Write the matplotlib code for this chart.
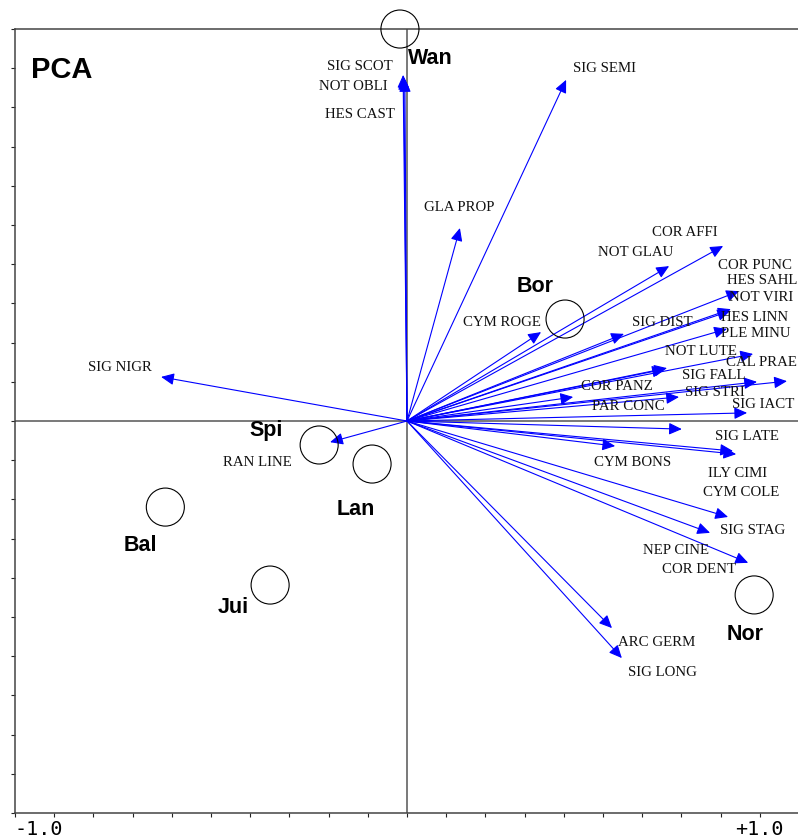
import matplotlib
matplotlib.use('Agg')
import matplotlib.pyplot as plt
import numpy as np

# site scores (circles)
sites = ['Wan', 'Bor', 'Spi', 'Lan', 'Bal', 'Jui', 'Nor']
site_x = [-0.020, 0.448, -0.249, -0.099, -0.685, -0.388, 0.984]
site_y = [1.111, 0.289, -0.068, -0.122, -0.244, -0.465, -0.493]

# species loadings (arrow tips)
species = ['SIG SCOT', 'NOT OBLI', 'HES CAST', 'GLA PROP', 'SIG SEMI', 'COR AFFI',
           'NOT GLAU', 'COR PUNC', 'HES SAHL', 'NOT VIRI', 'HES LINN', 'PLE MINU',
           'CYM ROGE', 'SIG DIST', 'NOT LUTE', 'CAL PRAE', 'SIG FALL', 'COR PANZ',
           'SIG STRI', 'PAR CONC', 'SIG IACT', 'SIG LATE', 'CYM BONS', 'ILY CIMI',
           'CYM COLE', 'SIG STAG', 'NEP CINE', 'COR DENT', 'ARC GERM', 'SIG LONG',
           'SIG NIGR', 'RAN LINE']
sp_x = [-0.011, -0.009, -0.006, 0.150, 0.451, 0.896,
        0.743, 0.941, 0.918, 0.916, 0.907, 0.981,
        0.380, 0.615, 0.737, 1.077, 0.992, 0.471,
        0.771, 0.731, 0.964, 0.924, 0.590, 0.779,
        0.933, 0.910, 0.859, 0.967, 0.581, 0.609,
        -0.697, -0.218]
sp_y = [0.981, 0.975, 0.969, 0.547, 0.967, 0.496,
        0.439, 0.368, 0.317, 0.312, 0.261, 0.190,
        0.252, 0.247, 0.150, 0.113, 0.111, 0.068,
        0.068, 0.147, 0.023, -0.085, -0.071, -0.023,
        -0.094, -0.272, -0.317, -0.402, -0.587, -0.672,
        0.125, -0.060]

# where the species names sit (left edge, middle)
sp_lab_x = [-0.227, -0.249, -0.232, 0.048, 0.471, 0.694,
            0.541, 0.882, 0.907, 0.913, 0.890, 0.890,
            0.159, 0.638, 0.731, 0.904, 0.779, 0.493,
            0.788, 0.524, 0.921, 0.873, 0.530, 0.853,
            0.839, 0.887, 0.669, 0.723, 0.598, 0.626,
            -0.904, -0.522]
sp_lab_y = [1.006, 0.947, 0.870, 0.604, 0.998, 0.533,
            0.479, 0.442, 0.397, 0.351, 0.292, 0.247,
            0.278, 0.278, 0.198, 0.167, 0.128, 0.099,
            0.082, 0.040, 0.048, -0.043, -0.119, -0.150,
            -0.204, -0.309, -0.366, -0.422, -0.629, -0.714,
            0.153, -0.119]

# where the site names sit (centre)
site_lab_x = [0.003, 0.363, -0.400, -0.145, -0.757, -0.493, 0.958]
site_lab_y = [1.028, 0.380, -0.026, -0.252, -0.354, -0.530, -0.604]

fig = plt.figure(figsize=(7.98, 8.39), dpi=100)
ax = fig.add_axes([15/798, 26/839, 783/798, 784/839])
ax.set_xlim(-10/9, 391/352.8)
ax.set_ylim(-10/9, 10/9)

ax.axhline(0, color='#555555', lw=1.1, zorder=1)
ax.axvline(0, color='#555555', lw=1.1, zorder=1)

for i in range(len(species)):
    ax.annotate('', xy=(sp_x[i], sp_y[i]), xytext=(0, 0),
                arrowprops=dict(arrowstyle='-|>,head_length=0.65,head_width=0.3',
                                color='#0000ff', lw=0.8, mutation_scale=12,
                                shrinkA=0, shrinkB=0), zorder=3)
    ax.text(sp_lab_x[i], sp_lab_y[i], species[i], ha='left', va='center',
            fontsize=10.7, family='Liberation Serif', color='#111111', zorder=4)

ax.scatter(site_x, site_y, s=750, facecolors='none', edgecolors='black',
           linewidths=0.8, zorder=5, clip_on=False)
for i in range(len(sites)):
    ha = 'left' if sites[i] == 'Wan' else 'center'
    ax.text(site_lab_x[i], site_lab_y[i], sites[i], ha=ha, va='center',
            fontsize=15.5, fontweight='bold', family='Liberation Sans', zorder=6)

ax.text(31/798, 1 - 70/839, 'PCA', transform=fig.transFigure, ha='left', va='center',
        fontsize=21, fontweight='bold', family='Liberation Sans')

ticks = np.arange(-10, 10) / 9
ax.set_xticks(ticks)
ax.set_yticks(np.arange(-10, 11) / 9)
ax.set_xticklabels([])
ax.set_yticklabels([])
ax.tick_params(direction='out', length=3, width=0.8, color='#222222')
ax.spines['right'].set_visible(False)
for s in ['left', 'top', 'bottom']:
    ax.spines[s].set_color('#444444')
    ax.spines[s].set_linewidth(1.1)

ax.annotate('-1.0', xy=(-10/9, 0), xycoords=('data', 'axes fraction'),
            xytext=(0, -5), textcoords='offset points', ha='left', va='top',
            fontsize=14.5, family='DejaVu Sans Mono', annotation_clip=False)
ax.annotate('+1.0', xy=(1.0, 0), xycoords=('data', 'axes fraction'),
            xytext=(0, -5), textcoords='offset points', ha='center', va='top',
            fontsize=14.5, family='DejaVu Sans Mono', annotation_clip=False)

fig.savefig('out.png', dpi=100)
